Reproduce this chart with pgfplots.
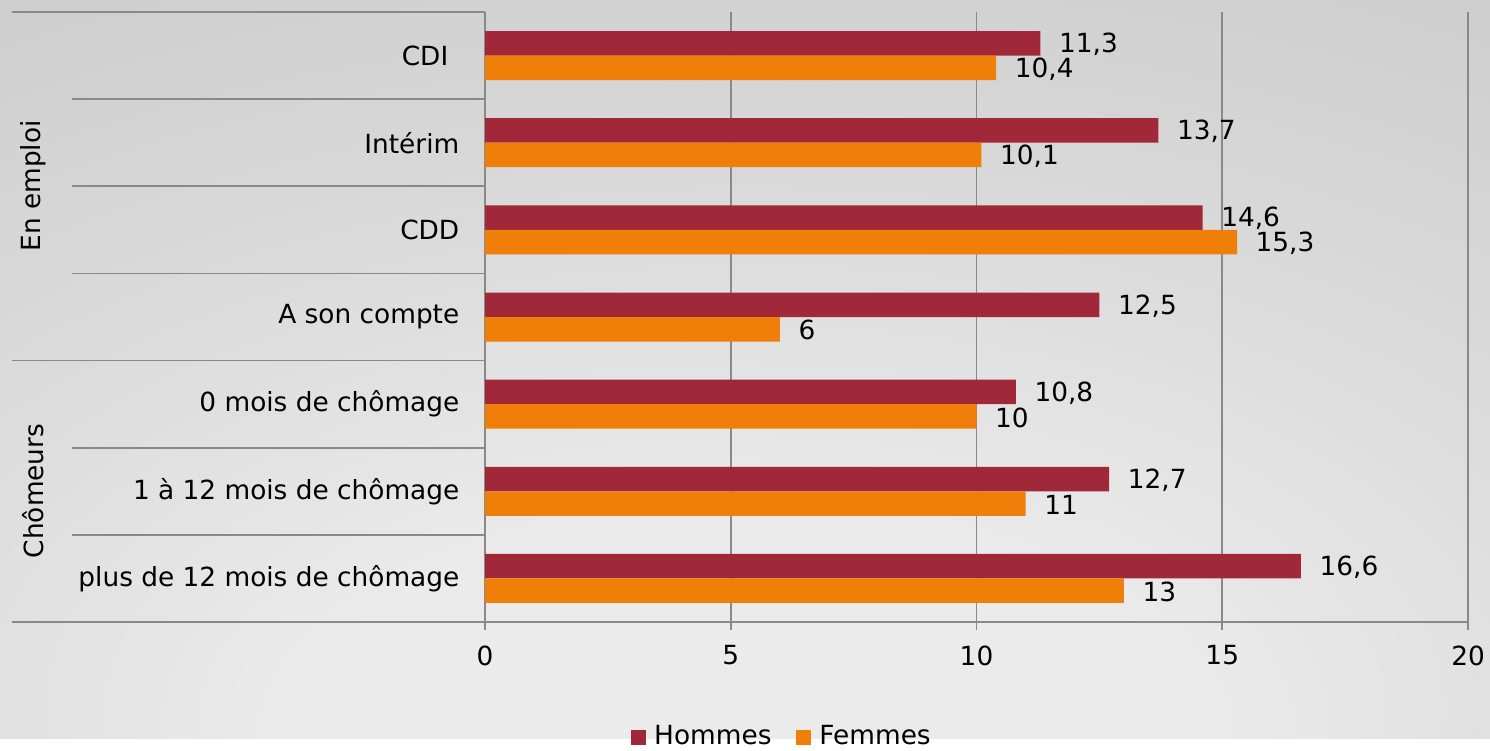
\documentclass[border=0pt]{standalone}
\usepackage{fontspec}
\setmainfont{DejaVu Sans}
\usepackage{pgfplots}
\pgfplotsset{compat=1.18}
\definecolor{hom}{HTML}{A12838}
\definecolor{fem}{HTML}{F07F0A}
\definecolor{gridc}{HTML}{898989}
\definecolor{bgl}{HTML}{EBEBEB}
\definecolor{bgm}{HTML}{DADADA}
\definecolor{bgd}{HTML}{C6C6C6}
\pgfdeclareradialshading{bgshade}{\pgfpoint{0bp}{-30bp}}{color(0bp)=(bgl); color(15bp)=(bgl); color(32bp)=(bgm); color(58bp)=(bgd); color(100bp)=(bgd)}
\begin{document}
\fontsize{7.5}{9}\selectfont
\begin{tikzpicture}
\useasboundingbox (0,0) rectangle (14.9,7.5);
\fill[white] (0,0) rectangle (14.9,7.5);
\shade[shading=bgshade] (0,0.12) rectangle (14.9,7.5);
\begin{axis}[
  at={(4.85cm,1.28cm)}, anchor=south west,
  scale only axis, width=9.83cm, height=6.10cm,
  xbar, bar width=0.281,
  xmin=0, xmax=20, ymin=-0.5, ymax=6.5, y dir=reverse,
  xtick={0,5,10,15,20}, ytick={0,...,6},
  yticklabels={CDI\kern0.11cm,Intérim,CDD,A son compte,0 mois de chômage,1 à 12 mois de chômage,plus de 12 mois de chômage},
  axis line style={draw=none},
  xmajorgrids, major grid style={gridc, line width=0.5pt},
  tick align=outside, xtick pos=lower,
  major tick length=0.08cm,
  xtick style={gridc, line width=0.5pt},
  ytick style={draw=none},
  xticklabel style={anchor=north, inner sep=0pt, yshift=-0.15cm},
  yticklabel style={anchor=east, inner sep=0pt, xshift=-0.17cm},
  /pgf/number format/assume math mode=true,
  /pgf/number format/use comma,
  nodes near coords,
  nodes near coords style={anchor=west, inner sep=0pt, xshift=0.18cm, yshift=-0.01cm, black},
  legend columns=2,
  legend style={at={(axis description cs:0.3011,-0.1885)}, anchor=center, draw=none, fill=none,
    nodes={inner sep=0pt},
    /tikz/every odd column/.append style={column sep=0.08cm},
    /tikz/every even column/.append style={column sep=0.25cm}},
  legend image code/.code={\fill[#1] (0cm,-0.075cm) rectangle (0.15cm,0.075cm);},
]
\addplot[fill=hom, draw=none, bar shift=-0.1405] coordinates {(11.3,0) (13.7,1) (14.6,2) (12.5,3) (10.8,4) (12.7,5) (16.6,6)};
\addplot[fill=fem, draw=none, bar shift=0.1405] coordinates {(10.4,0) (10.1,1) (15.3,2) (6,3) (10,4) (11,5) (13,6)};
\legend{Hommes, Femmes}
\end{axis}
\begin{scope}[gridc, line width=0.5pt]
\draw (0.12,7.38) -- (4.85,7.38);
\draw (0.12,3.894) -- (4.85,3.894);
\draw (0.12,1.28) -- (14.68,1.28);
\foreach \y in {6.509,5.637,4.766,3.023,2.151} \draw (0.72,\y) -- (4.85,\y);
\end{scope}
\node[rotate=90] at (0.33,5.64) {En emploi};
\node[rotate=90] at (0.33,2.59) {Chômeurs};
\end{tikzpicture}
\end{document}
